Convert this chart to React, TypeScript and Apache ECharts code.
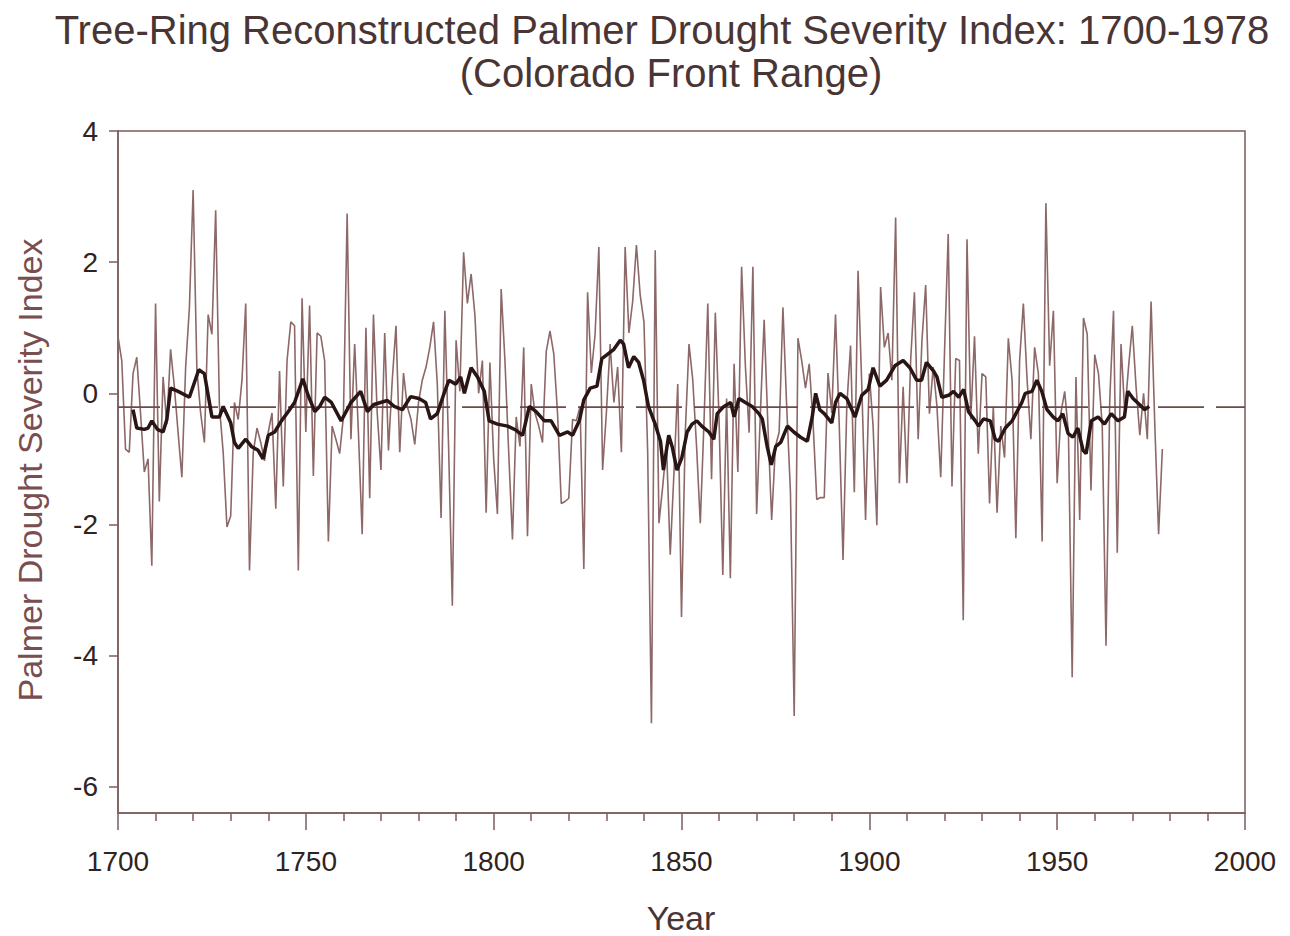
import React, { useEffect, useRef } from "react";
import * as echarts from "echarts";

// Annual reconstructed PDSI values, 1700-1978
const START_YEAR = 1700;
const pdsi1700s = [
  0.87, 0.5, -0.85, -0.9, 0.3, 0.55, -0.3, -1.2, -1.0, -2.63,
  1.37, -1.65, 0.25, -0.47, 0.67, 0.1, -0.6, -1.28, 0.39, 1.3,
  3.1, 0.36, -0.3, -0.75, 1.2, 0.9, 2.79, -0.2, -0.9, -2.04,
  -1.87, -0.14, -0.4, 0.2, 1.37, -2.7, -0.9, -0.53, -0.75, -1.03,
  -0.59, -0.3, -1.76, 0.34, -1.42, 0.5, 1.09, 1.03, -2.7, 1.45,
  -0.59, 1.34, -1.26, 0.92, 0.87, 0.5, -2.26, -0.5, -0.7, -0.92,
  -0.36, 2.74, -0.7, 0.75, -0.6, -2.15, 1.0, -1.6, 1.2, -0.3,
  -1.17, 0.92, -0.87, 0.2, 1.03, -0.9, 0.31, -0.2, -0.4, -0.78,
  -0.14, 0.2, 0.4, 0.7, 1.09, 0.14, -1.9, 1.26, -0.81, -3.24,
  0.81, 0.03, 2.15, 1.37, 1.82, 1.2, 0.0, 0.5, -1.82, 0.47,
];
const pdsi1800s = [
  -1.0, -1.84, 1.59, 0.5, -0.9, -2.23, -0.36, -0.81, 0.7, -2.18,
  0.14, -0.3, -0.5, -0.75, 0.64, 0.95, 0.6, -0.3, -1.68, -1.65,
  -1.6, -0.4, -0.42, -0.2, -2.68, 1.54, 0.31, 0.9, 2.23, -1.17,
  -0.3, 0.75, -0.14, 0.4, -0.9, 2.23, 0.92, 1.4, 2.26, 1.5,
  1.09, -0.9, -5.03, 2.18, -1.98, -1.42, -0.8, -2.46, -1.2, 0.14,
  -3.41, -0.6, 0.75, 0.2, -0.8, -1.98, -0.42, 1.37, -1.31, 1.23,
  -0.4, -2.77, -0.08, -2.82, 0.45, -1.2, 1.93, 0.42, -0.6, 1.93,
  -1.84, -0.3, 1.12, -0.5, -1.93, -0.81, -0.59, 1.31, -0.2, -1.5,
  -4.92, 0.84, 0.5, 0.08, 0.45, -0.42, -1.62, -1.59, -1.59, 0.31,
  -0.3, 1.2, -0.5, -2.54, -0.2, 0.73, -1.51, 1.87, 0.1, -1.93,
];
const pdsi1900s = [
  0.3, -0.5, -2.01, 1.62, 0.7, 0.92, 0.2, 2.68, -1.37, 0.1,
  -1.37, 0.5, 1.54, -0.7, 0.8, 1.65, -0.31, 0.4, -0.2, -1.28,
  0.6, 2.43, -1.42, 0.53, 0.5, -3.46, 2.35, -0.4, 0.87, -0.92,
  0.3, 0.25, -1.68, -0.2, -1.82, -0.5, -0.98, 0.84, 0.2, -2.21,
  0.5, 1.37, 0.2, -0.7, 0.7, 0.3, -2.26, 2.9, 0.42, 1.26,
  -1.37, -0.3, 0.03, -0.6, -4.33, 0.25, -1.93, 1.15, 0.9, -1.48,
  0.59, 0.3, -0.5, -3.85, -0.1, 1.26, -2.43, 0.75, -0.3, 0.4,
  1.03, 0.1, -0.64, 0.0, -0.7, 1.4, -0.5, -2.15, -0.85,
];

// Smoothed curve (at sample years)
const smoothYears = [
  1704, 1705, 1707, 1708, 1709, 1710.5, 1712, 1713, 1714, 1716, 1719, 1721.5, 1723, 1725, 1727, 1728,
  1730, 1731, 1732, 1734, 1735.5, 1737.3, 1738.6, 1740, 1741.7, 1743.5, 1745.3, 1747, 1749.2, 1750.6,
  1752.4, 1753.7, 1755, 1756.8, 1759.4, 1761, 1762, 1764.6, 1766.4, 1768.1, 1769.9, 1771.7, 1773.5,
  1775.7, 1777.9, 1780.1, 1781.9, 1783.2, 1785, 1786.8, 1788.1, 1789.9, 1791.2, 1792.2, 1794, 1795.7,
  1797.5, 1798.8, 1801, 1803.7, 1805.9, 1807.7, 1809.5, 1811.3, 1813.5, 1815.3, 1817.5, 1819.7, 1821,
  1822.8, 1824, 1825.7, 1827.5, 1828.8, 1830.2, 1832, 1833.7, 1834.6, 1835.9, 1837.3, 1838.6, 1839.9,
  1841.2, 1843, 1844.4, 1845.2, 1846.6, 1847.5, 1848.8, 1850.1, 1851.5, 1852.8, 1854.1, 1855.4, 1857.3,
  1858.6, 1859.5, 1861.3, 1863.1, 1864, 1865.3, 1867, 1868.8, 1870.6, 1871.5, 1872.8, 1873.9, 1875.1,
  1876.4, 1878.2, 1879.9, 1881.7, 1883.5, 1884.8, 1885.7, 1886.8, 1888, 1890, 1891, 1892.2, 1894,
  1896.2, 1898, 1899.7, 1901, 1902.8, 1904.6, 1906.8, 1909, 1910.8, 1912.6, 1913.9, 1915.2, 1917.1,
  1918, 1919.3, 1921.1, 1922.4, 1923.8, 1925.1, 1926.4, 1928.2, 1929.1, 1930.4, 1932.2, 1933.5, 1934.4,
  1936.2, 1938, 1939.3, 1940.6, 1941.5, 1943.3, 1944.6, 1945.9, 1947.3, 1948.9, 1950.2, 1951.5, 1952.9,
  1954.2, 1955.5, 1956.9, 1957.7, 1959.1, 1960.9, 1962.6, 1964.4, 1966.2, 1967.9, 1968.8, 1970.2,
  1971.9, 1973.3, 1974.5,
];
const smoothValues = [
  -0.25, -0.53, -0.55, -0.53, -0.42, -0.55, -0.59, -0.4, 0.08, 0.03, -0.06, 0.36, 0.3, -0.36, -0.36, -0.2,
  -0.45, -0.75, -0.84, -0.7, -0.81, -0.87, -1.0, -0.64, -0.59, -0.42, -0.28, -0.14, 0.22, -0.03,
  -0.28, -0.2, -0.06, -0.14, -0.42, -0.25, -0.14, 0.03, -0.28, -0.17, -0.14, -0.11, -0.2,
  -0.25, -0.05, -0.08, -0.14, -0.39, -0.31, 0.0, 0.2, 0.14, 0.25, 0.0, 0.39, 0.25,
  0.03, -0.42, -0.47, -0.5, -0.56, -0.64, -0.2, -0.28, -0.42, -0.42, -0.64, -0.59, -0.64,
  -0.42, -0.1, 0.08, 0.11, 0.53, 0.59, 0.67, 0.81, 0.75, 0.39, 0.56, 0.47, 0.2,
  -0.2, -0.47, -0.73, -1.17, -0.64, -0.81, -1.17, -0.98, -0.59, -0.47, -0.42, -0.5, -0.59,
  -0.7, -0.31, -0.2, -0.14, -0.36, -0.08, -0.14, -0.2, -0.31, -0.39, -0.81, -1.09, -0.81,
  -0.75, -0.5, -0.59, -0.67, -0.73, -0.36, 0.0, -0.25, -0.31, -0.45, -0.14, 0.0, -0.08,
  -0.36, -0.03, 0.06, 0.39, 0.11, 0.2, 0.42, 0.5, 0.39, 0.2, 0.2, 0.47, 0.34,
  0.25, -0.06, -0.03, 0.03, -0.06, 0.06, -0.28, -0.42, -0.5, -0.39, -0.42, -0.7, -0.73,
  -0.53, -0.42, -0.28, -0.14, 0.0, 0.03, 0.2, 0.03, -0.25, -0.36, -0.42, -0.31, -0.61,
  -0.67, -0.53, -0.87, -0.92, -0.42, -0.36, -0.47, -0.31, -0.42, -0.36, 0.03, -0.08,
  -0.17, -0.25, -0.2,
];

// Long-term mean line
const meanPdsi = -0.21;
const meanSpan = [1700, 2000];

// Axis ticks
const yTicks = [-6, -4, -2, 0, 2, 4];

const TITLE_1 = "Tree-Ring Reconstructed Palmer Drought Severity Index: 1700-1978";
const TITLE_2 = "(Colorado Front Range)";
const Y_NAME = "Palmer Drought Severity Index";
const X_NAME = "Year";

const FONT = "'Liberation Sans', Arial, Helvetica, sans-serif";
const AXIS_COLOR = "#7d5c5c";
const LABEL_COLOR = "#2f2323";

export default function App() {
  const ref = useRef<HTMLDivElement>(null);

  useEffect(() => {
    if (!ref.current) return;
    const chart = echarts.init(ref.current, null, { renderer: "svg" });
    const annualValues = [...pdsi1700s, ...pdsi1800s, ...pdsi1900s];
    const annual = annualValues.map((v, i) => [START_YEAR + i, v]);
    const smooth = smoothYears.map((y, i) => [y, smoothValues[i]]);
    const mean = meanSpan.map((y) => [y, meanPdsi]);

    chart.setOption({
      animation: false,
      backgroundColor: "#ffffff",
      textStyle: { fontFamily: FONT },
      grid: {
        left: 118,
        right: 45,
        top: 131,
        bottom: 123,
        show: true,
        borderColor: AXIS_COLOR,
        borderWidth: 1.5,
        backgroundColor: "transparent",
      },
      xAxis: {
        type: "value",
        min: 1700,
        max: 2000,
        interval: 50,
        axisLine: { onZero: false, lineStyle: { color: AXIS_COLOR, width: 1.5 } },
        axisTick: { length: 17, lineStyle: { color: AXIS_COLOR, width: 1.5 } },
        minorTick: { show: true, splitNumber: 5, length: 8, lineStyle: { color: AXIS_COLOR, width: 1.5 } },
        axisLabel: {
          color: LABEL_COLOR,
          fontSize: 28,
          fontFamily: FONT,
          margin: 34,
          formatter: (v: number) => String(v),
        },
        splitLine: { show: false },
      },
      yAxis: {
        type: "value",
        min: -6.4,
        max: 4,
        axisLine: { onZero: false, lineStyle: { color: AXIS_COLOR, width: 1.5 } },
        axisTick: { length: 9, customValues: yTicks, lineStyle: { color: AXIS_COLOR, width: 1.5 } },
        axisLabel: {
          customValues: yTicks,
          color: LABEL_COLOR,
          fontSize: 28,
          fontFamily: FONT,
          margin: 20,
          formatter: (v: number) => String(v),
        },
        splitLine: { show: false },
      },
      series: [
        {
          type: "line",
          data: annual,
          showSymbol: false,
          symbol: "none",
          lineStyle: { color: "#8d6868", width: 1.6 },
          z: 2,
        },
        {
          type: "line",
          data: mean,
          showSymbol: false,
          symbol: "none",
          lineStyle: { color: "#6e4a4a", width: 1.6, type: [46, 12], dashOffset: 4 },
          z: 3,
        },
        {
          type: "line",
          data: smooth,
          showSymbol: false,
          symbol: "none",
          lineStyle: { color: "#2a1515", width: 3.5 },
          z: 4,
        },
      ],
      graphic: [
        {
          type: "text",
          x: 662,
          y: 30,
          style: {
            text: TITLE_1,
            fill: "#4a3535",
            font: `40px ${FONT}`,
            textAlign: "center",
            textVerticalAlign: "middle",
          },
        },
        {
          type: "text",
          x: 671,
          y: 73,
          style: {
            text: TITLE_2,
            fill: "#4a3535",
            font: `40px ${FONT}`,
            textAlign: "center",
            textVerticalAlign: "middle",
          },
        },
        {
          type: "text",
          x: 30,
          y: 470,
          rotation: Math.PI / 2,
          style: {
            text: Y_NAME,
            fill: "#7a4e4e",
            font: `34px ${FONT}`,
            textAlign: "center",
            textVerticalAlign: "middle",
          },
        },
        {
          type: "text",
          x: 681,
          y: 918,
          style: {
            text: X_NAME,
            fill: "#4a3535",
            font: `34px ${FONT}`,
            textAlign: "center",
            textVerticalAlign: "middle",
          },
        },
      ],
    });

    return () => chart.dispose();
  }, []);

  return (
    <div
      ref={ref}
      style={{ position: "fixed", left: 0, top: 0, width: 1290, height: 936, background: "#ffffff" }}
    />
  );
}
